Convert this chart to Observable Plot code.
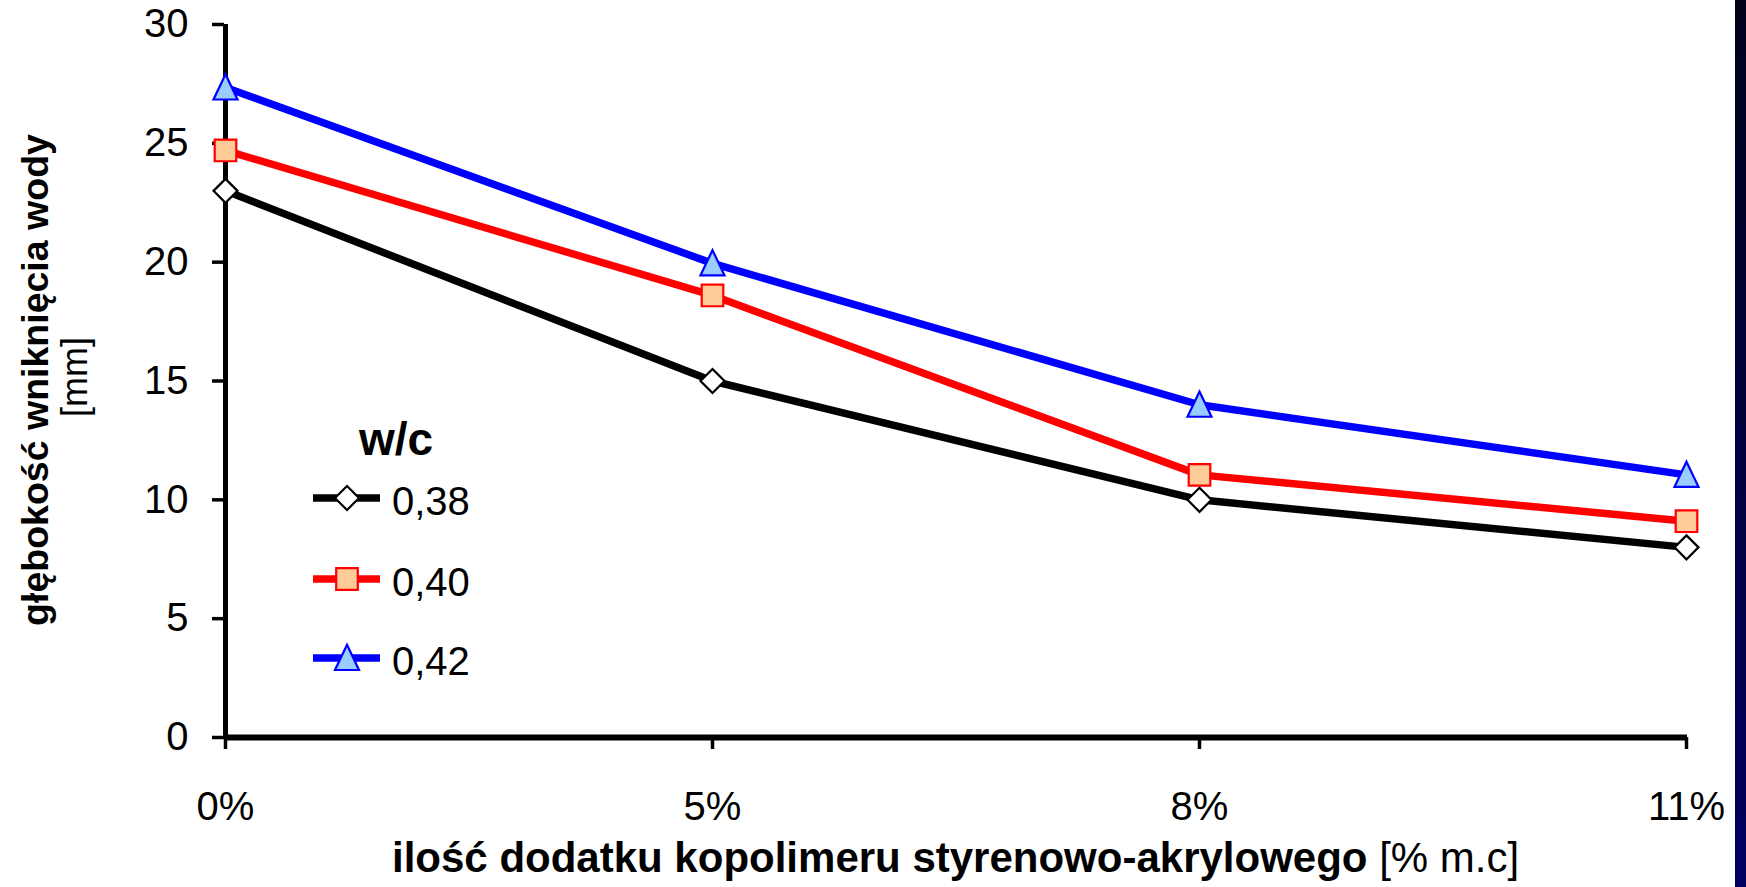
<!DOCTYPE html>
<html>
<head>
<meta charset="utf-8">
<script src="https://cdn.jsdelivr.net/npm/d3@7"></script>
<script src="https://cdn.jsdelivr.net/npm/@observablehq/plot@0.6"></script>
<style>
  html, body { margin: 0; padding: 0; background: #ffffff; }
  #wrap { position: relative; width: 1746px; height: 887px; overflow: hidden; background: #ffffff; }
  #strip { position: absolute; left: 1735px; top: 0; width: 11px; height: 887px;
           background: linear-gradient(to bottom, #00001a, #000062); }
</style>
</head>
<body>
<div id="wrap"><div id="strip"></div></div>
<script>
// ---- data ----
const categories = ["0%", "5%", "8%", "11%"];
const seriesNames = ["0,38", "0,40", "0,42"];
const values038 = [23.0, 15.0, 10.0, 8.0];
const values040 = [24.7, 18.6, 11.05, 9.1];
const values042 = [27.35, 19.95, 14.0, 11.05];
const yTicks = [0, 5, 10, 15, 20, 25, 30];
const legendTitle = "w/c";
const xTitleBold = "ilość dodatku kopolimeru styrenowo-akrylowego";
const xTitleUnit = " [% m.c]";
const yTitleBold = "głębokość wniknięcia wody";
const yTitleUnit = "[mm]";

// ---- custom symbols ----
const symDiamond = { draw(ctx, size) { const r = Math.sqrt(size / Math.PI);
  ctx.moveTo(0, -r); ctx.lineTo(r, 0); ctx.lineTo(0, r); ctx.lineTo(-r, 0); ctx.closePath(); } };
const symSquare = { draw(ctx, size) { const r = Math.sqrt(size / Math.PI) * 0.9;
  ctx.moveTo(-r, -r); ctx.lineTo(r, -r); ctx.lineTo(r, r); ctx.lineTo(-r, r); ctx.closePath(); } };
const symTriangle = { draw(ctx, size) { const r = Math.sqrt(size / Math.PI);
  ctx.moveTo(0, -r * 1.1); ctx.lineTo(r, r * 1.0); ctx.lineTo(-r, r * 1.0); ctx.closePath(); } };

const styles = [
  { stroke: "#000000", fill: "#ffffff", symbol: symDiamond, lw: 7.5 },
  { stroke: "#ff0000", fill: "#ffcc99", symbol: symSquare, lw: 7.5 },
  { stroke: "#0000ff", fill: "#99ccff", symbol: symTriangle, lw: 7.5 }
];
const allValues = [values038, values040, values042];
const rows = [];
allValues.forEach((vals, si) => vals.forEach((v, i) => rows.push({ cat: categories[i], value: v, series: seriesNames[si] })));

const marks = [
  Plot.ruleY([0], { stroke: "black", strokeWidth: 6 }),
  Plot.ruleX([categories[0]], { stroke: "black", strokeWidth: 5 }),
  Plot.axisY({ ticks: yTicks, tickSize: 12, tickPadding: 24, fontSize: 40, strokeWidth: 3.5, stroke: "black", fill: "black", label: null }),
  Plot.axisX({ tickSize: 12, tickPadding: 42, fontSize: 40, strokeWidth: 3.5, stroke: "black", fill: "black", label: null })
];
seriesNames.forEach((name, si) => {
  marks.push(Plot.line(rows.filter(d => d.series === name), { x: "cat", y: "value", stroke: styles[si].stroke, strokeWidth: styles[si].lw, strokeLinejoin: "miter" }));
});
seriesNames.forEach((name, si) => {
  marks.push(Plot.dot(rows.filter(d => d.series === name), { x: "cat", y: "value", symbol: styles[si].symbol, r: 12,
    fill: styles[si].fill, stroke: styles[si].stroke, strokeWidth: 2.2 }));
});

const chart = Plot.plot({
  width: 1746, height: 887,
  marginLeft: 224, marginRight: 59, marginTop: 24, marginBottom: 150,
  style: { fontFamily: "'Liberation Sans', Arial, sans-serif", color: "black", background: "transparent" },
  x: { type: "point", domain: categories, padding: 0 },
  y: { domain: [0, 30] },
  marks
});
document.getElementById("wrap").prepend(chart);

// ---- titles and legend ----
const svg = d3.select(chart);
const font = "'Liberation Sans', Arial, sans-serif";
const xt = svg.append("text").attr("x", 392).attr("y", 872).attr("text-anchor", "start")
  .attr("font-family", font).attr("font-size", 42).attr("fill", "black");
xt.append("tspan").attr("font-weight", "bold").text(xTitleBold);
xt.append("tspan").attr("font-weight", "normal").text(xTitleUnit);

const yt = svg.append("g").attr("transform", "translate(48,380) rotate(-90)");
yt.append("text").attr("text-anchor", "middle").attr("font-family", font).attr("font-size", 37.5).attr("font-weight", "bold").attr("fill", "black").text(yTitleBold);
const yt2 = svg.append("g").attr("transform", "translate(87,377) rotate(-90)");
yt2.append("text").attr("text-anchor", "middle").attr("font-family", font).attr("font-size", 36).attr("fill", "black").text(yTitleUnit);

const lg = svg.append("g");
lg.append("text").attr("x", 396).attr("y", 455).attr("text-anchor", "middle").attr("font-family", font)
  .attr("font-size", 46).attr("font-weight", "bold").attr("fill", "black").text(legendTitle);
const legY = [498, 579, 658];
seriesNames.forEach((name, si) => {
  const y = legY[si];
  lg.append("line").attr("x1", 313).attr("x2", 380).attr("y1", y).attr("y2", y)
    .attr("stroke", styles[si].stroke).attr("stroke-width", 7.5);
  lg.append("path").attr("transform", `translate(347,${y})`)
    .attr("d", d3.symbol(styles[si].symbol, 12 * 12 * Math.PI)())
    .attr("fill", styles[si].fill).attr("stroke", styles[si].stroke).attr("stroke-width", 2.2);
  lg.append("text").attr("x", 392).attr("y", y + 17).attr("text-anchor", "start").attr("font-family", font).attr("font-size", 40)
    .attr("fill", "black").text(name);
});
</script>
</body>
</html>
